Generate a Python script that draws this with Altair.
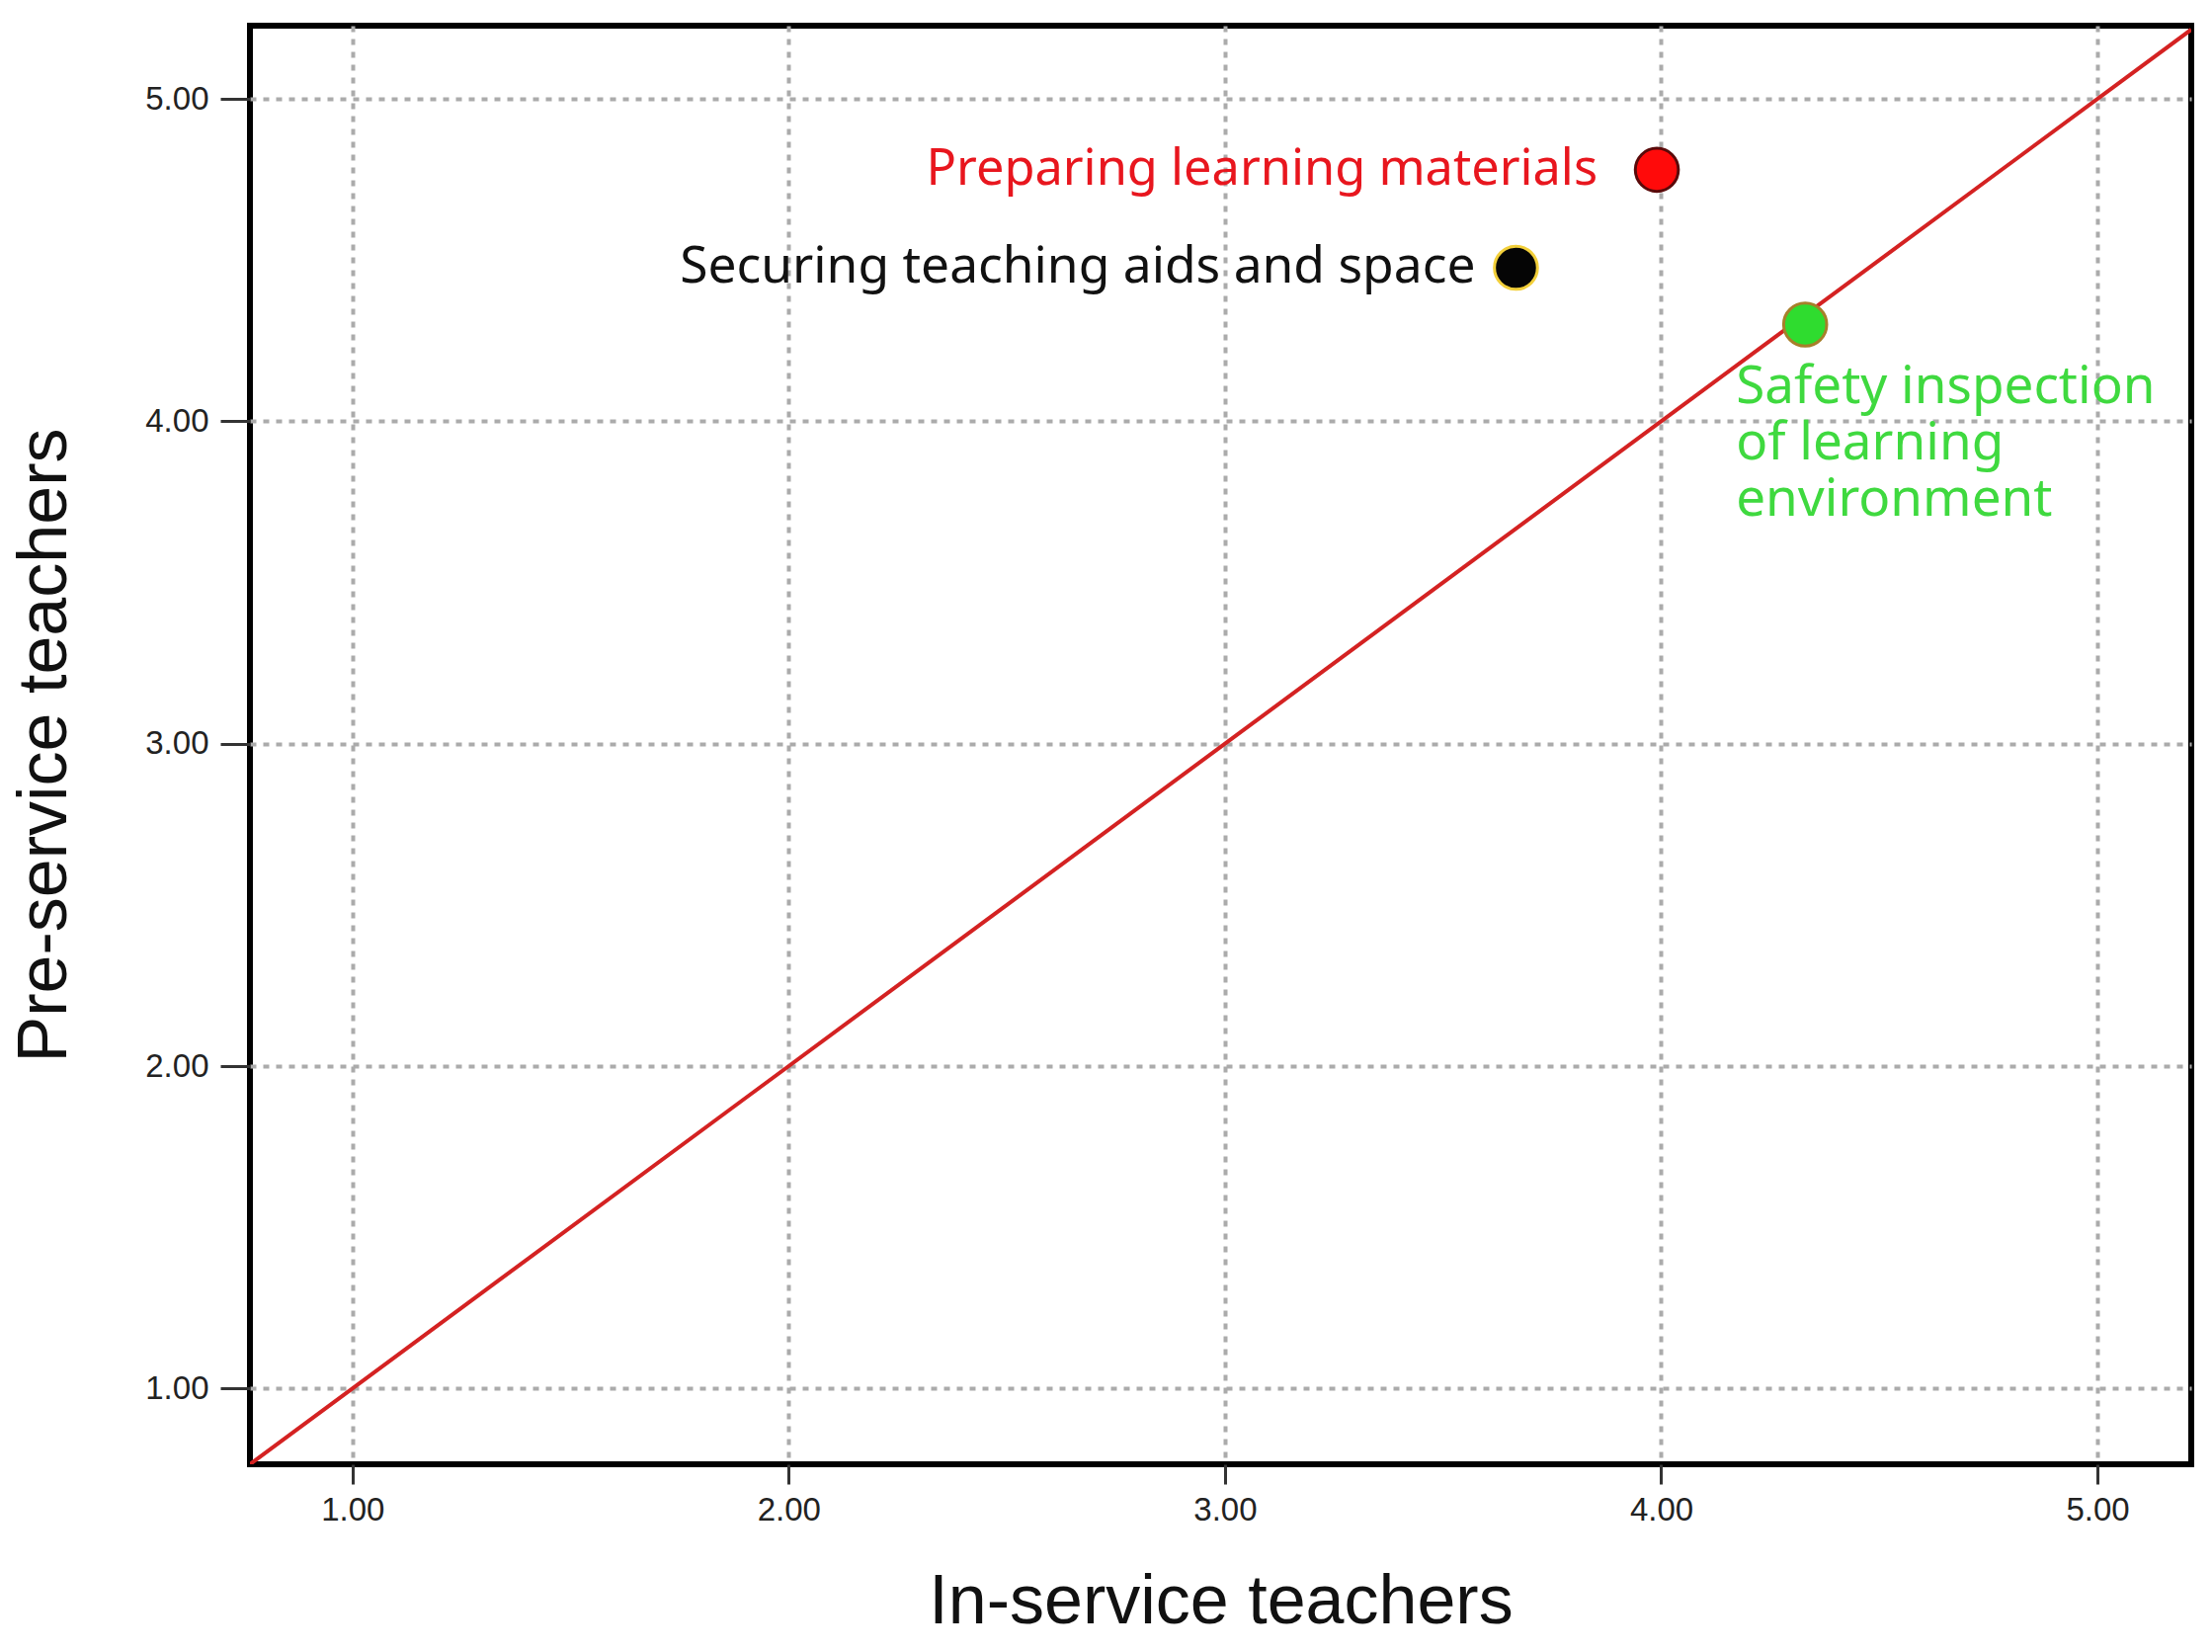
import altair as alt
import pandas as pd

# ---- data ----
labels = ["Preparing learning materials",
          "Securing teaching aids and space",
          "Safety inspection\nof learning\nenvironment"]
in_service = [3.99, 3.667, 4.33]
pre_service = [4.78, 4.476, 4.30]
fill_colors = ["#ff0a0a", "#050505", "#2fdc2f"]
stroke_colors = ["#5a0a0a", "#f2cf3a", "#a77f2a"]
text_colors = ["#e8161e", "#111111", "#3fd93f"]
tick_values = [1, 2, 3, 4, 5]
x_domain = [0.765, 5.215]
y_domain = [0.765, 5.227]
diag_values = [0.765, 5.215]

pts = pd.DataFrame({"x": in_service, "y": pre_service, "label": labels})
diag = pd.DataFrame({"x": diag_values, "y": diag_values})

grid_style = dict(grid=True, gridDash=[6, 7], gridColor="#ababab", gridWidth=4)

X = alt.X("x:Q",
          scale=alt.Scale(domain=x_domain, nice=False, zero=False),
          axis=alt.Axis(values=tick_values, format=".2f", title="In-service teachers",
                        domain=False, tickSize=20, tickWidth=3, tickColor="#333333",
                        labelPadding=10, labelFont="Liberation Sans", labelFontSize=33,
                        labelColor="#222222",
                        titleFont="Liberation Sans", titleFontSize=70, titleFontWeight="normal",
                        titleColor="#111111", titleY=160, titleBaseline="alphabetic",
                        **grid_style))
Y = alt.Y("y:Q",
          scale=alt.Scale(domain=y_domain, nice=False, zero=False),
          axis=alt.Axis(values=tick_values, format=".2f", title="Pre-service teachers",
                        domain=False, tickSize=30, tickWidth=3, tickColor="#333333",
                        labelPadding=12, labelFont="Liberation Sans", labelFontSize=33,
                        labelColor="#222222",
                        titleFont="Liberation Sans", titleFontSize=70, titleFontWeight="normal",
                        titleColor="#111111", titleX=-187, titleY=728,
                        titleBaseline="alphabetic", **grid_style))

line = alt.Chart(diag).mark_line(color="#d42222", strokeWidth=4, clip=True).encode(x=X, y=Y)

points = alt.Chart(pts).mark_point(filled=True, shape="circle", size=1900, strokeWidth=3,
                                   opacity=1).encode(
    x=X, y=Y,
    fill=alt.Fill("label:N", scale=alt.Scale(domain=labels, range=fill_colors), legend=None),
    stroke=alt.Stroke("label:N", scale=alt.Scale(domain=labels, range=stroke_colors), legend=None),
)

def label_layer(i, size, **kw):
    return alt.Chart(pts).transform_filter(
        alt.datum.label == labels[i]
    ).mark_text(font="Noto Sans", fontSize=size, color=text_colors[i], lineBreak="\n",
                lineHeight=57, **kw).encode(x=X, y=Y, text="label:N")

t_red = label_layer(0, 50.5, align="right", baseline="middle", dx=-60)
t_black = label_layer(1, 51.5, align="right", baseline="middle", dx=-41)
t_green = label_layer(2, 53, align="left", baseline="alphabetic", dx=-70, dy=80)

chart = alt.layer(line, points, t_red, t_black, t_green).properties(
    width=1965, height=1456,
    autosize=alt.AutoSizeParams(type="none"),
    padding={"left": 245, "top": 18, "right": 13, "bottom": 182},
    background="white",
).configure_view(stroke="#000000", strokeWidth=6)

chart.save("out.html", embed_options={"renderer": "svg", "actions": False})
